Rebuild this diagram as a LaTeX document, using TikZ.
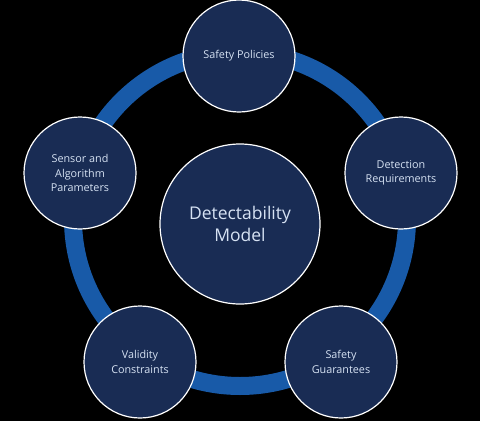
\documentclass[tikz,border=0pt]{standalone}
\usepackage{fontspec}
\setmainfont{Open Sans}
\definecolor{navy}{HTML}{192C54}
\definecolor{ringblue}{HTML}{185AA8}
\definecolor{labeltext}{HTML}{D6E2F3}
\begin{document}
\begin{tikzpicture}[x=1pt,y=-1pt,
  topic/.style={circle, fill=navy, draw=white, line width=1.2pt,
    minimum size=112pt, inner sep=0pt, text=labeltext, align=center,
    font=\fontsize{10.8}{14.5}\selectfont},
  hub/.style={topic, minimum size=160pt, font=\fontsize{17.5}{22}\selectfont}]
% canvas
\fill[black] (0,0) rectangle (480,421);
\useasboundingbox (0,0) rectangle (480,421);
% ring linking the five topics
\coordinate (ringc) at (240,219);
\draw[ringblue, line width=18pt] (ringc) circle[radius=167pt];
% centre
\node[hub] (model) at (240,224) {Detectability\\Model};
% topics around the ring
\node[topic] (policies) at (239,56) {Safety Policies};
\node[topic] (detect) at (401,173) {Detection\\Requirements};
\node[topic] (guarant) at (341,362) {Safety\\Guarantees};
\node[topic] (valid) at (140,362) {Validity\\Constraints};
\node[topic] (sensor) at (80,173) {Sensor and\\Algorithm\\Parameters};
\end{tikzpicture}
\end{document}
